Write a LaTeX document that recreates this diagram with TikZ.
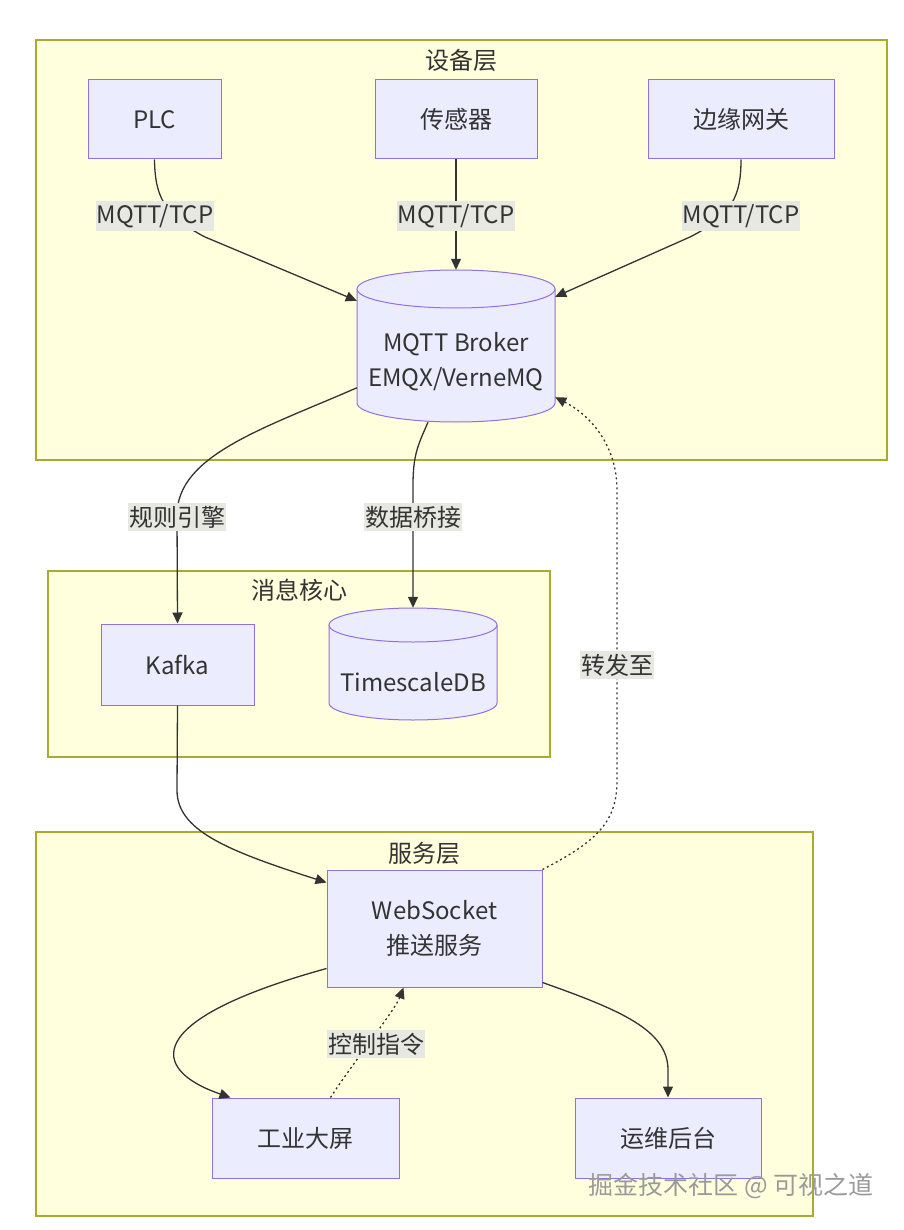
\documentclass[tikz,border=0pt]{standalone}
\usepackage{fontspec}
\setmainfont{Noto Sans CJK SC}
\usetikzlibrary{arrows.meta,calc}
\definecolor{clfill}{HTML}{FFFFDE}
\definecolor{clline}{HTML}{AAAA33}
\definecolor{nfill}{HTML}{ECECFF}
\definecolor{nline}{HTML}{9370DB}
\definecolor{ink}{HTML}{333333}
\definecolor{lbg}{HTML}{E8E8E2}
\definecolor{wmark}{HTML}{9A9A9A}
\begin{document}
\begin{tikzpicture}[x=1pt,y=-1pt,
 cluster/.style={fill=clfill,draw=clline,line width=1.2pt},
 box/.style={fill=nfill,draw=nline,line width=1pt,text=ink,font=\fontsize{24}{35}\selectfont,align=center,inner sep=0pt},
 cyl/.style={fill=nfill,draw=nline,line width=1pt},
 ghost/.style={inner sep=0pt},
 ntext/.style={text=ink,font=\fontsize{24}{35}\selectfont,align=center,inner sep=0pt},
 ctitle/.style={text=ink,font=\fontsize{24}{28}\selectfont,inner sep=0pt},
 arr/.style={draw=ink,line width=1.3pt,-{Triangle[length=11pt,width=10pt]}},
 dotarr/.style={arr,dash pattern=on 2pt off 3pt},
 elabel/.style={fill=lbg,text=ink,font=\fontsize{24}{28}\selectfont,inner xsep=1pt,inner ysep=3pt},
]
\useasboundingbox[fill=white] (0,0) rectangle (903,1230);

% clusters
\path[cluster] (36,40) rectangle (887,460);
\node[ctitle] (t1) at (461,60) {设备层};
\path[cluster] (48,571) rectangle (550,757);
\node[ctitle] (t2) at (299,590) {消息核心};
\path[cluster] (36,832) rectangle (813,1216);
\node[ctitle] (t3) at (424,853) {服务层};

% device nodes
\node[box,minimum width=133pt,minimum height=79pt] (plc) at (154.5,119.5) {PLC};
\node[box,minimum width=162pt,minimum height=79pt] (sensor) at (456,119.5) {传感器};
\node[box,minimum width=186pt,minimum height=79pt] (gw) at (741,119.5) {边缘网关};

% broker cylinder
\node[ghost,minimum width=198pt,minimum height=152pt] (broker) at (456,346) {};
\path[cyl] (357,289) -- (357,403) arc[start angle=180,end angle=0,x radius=99,y radius=19] -- (555,289);
\path[cyl] (456,289) ellipse[x radius=99,y radius=19];
\node[ntext] (brokertxt) at (456,362) {MQTT Broker\\EMQX/VerneMQ};

% message core
\node[box,minimum width=153pt,minimum height=81pt] (kafka) at (177.5,664.5) {Kafka};
\node[ghost,minimum width=168pt,minimum height=112pt] (tsdb) at (413,664) {};
\path[cyl] (329,625) -- (329,703) arc[start angle=180,end angle=0,x radius=84,y radius=17] -- (497,625);
\path[cyl] (413,625) ellipse[x radius=84,y radius=17];
\node[ntext] (tsdbtxt) at (413,682) {TimescaleDB};

% service layer
\node[box,minimum width=215pt,minimum height=117pt] (ws) at (434.5,928.5) {WebSocket\\推送服务};
\node[box,minimum width=187pt,minimum height=80pt] (screen) at (305.5,1138) {工业大屏};
\node[box,minimum width=186pt,minimum height=80pt] (ops) at (668,1138) {运维后台};

% edges
\draw[arr] (plc.south) .. controls (155,195) and (163,215) .. (205,237) -- ([yshift=-31pt]broker.north west);
\draw[arr] (sensor.south) -- (broker.north);
\draw[arr] (gw.south) .. controls (741,195) and (733,215) .. (690,237) -- ([yshift=-27pt]broker.north east);
\draw[arr] ([yshift=-118pt]broker.north west) .. controls (265,428) and (177,455) .. (177,515) -- (kafka.north);
\draw[arr] ([xshift=-28pt]broker.south) .. controls (418,445) and (413,455) .. (413,485) -- (tsdb.north);
\draw[arr] (kafka.south) -- (177,790) .. controls (177,830) and (225,850) .. ([yshift=-13pt]ws.north west);
\draw[dotarr] (ws.north east) .. controls (600,840) and (617,820) .. (617,780) -- (617,490) .. controls (617,445) and (590,415) .. ([yshift=25pt]broker.south east);
\draw[arr] ([yshift=19pt]ws.south west) .. controls (140,1020) and (150,1070) .. ([xshift=-75pt]screen.north);
\draw[dotarr] ([xshift=25pt]screen.north) .. controls (355,1060) and (395,1010) .. ([xshift=-31pt]ws.south);
\draw[arr] ([yshift=5pt]ws.south east) .. controls (620,1010) and (668,1030) .. (668,1070) -- (ops.north);

% edge labels
\node[elabel] (l1) at (155,216) {MQTT/TCP};
\node[elabel] (l2) at (456,216) {MQTT/TCP};
\node[elabel] (l3) at (741,216) {MQTT/TCP};
\node[elabel] (l4) at (177,517) {规则引擎};
\node[elabel] (l5) at (413,517) {数据桥接};
\node[elabel] (l6) at (617,665) {转发至};
\node[elabel] (l7) at (376,1044) {控制指令};

% watermark
\node[text=wmark,font=\fontsize{25}{28}\selectfont,inner sep=0pt] (wm) at (731,1186) {掘金技术社区 @ 可视之道};
\end{tikzpicture}
\end{document}
